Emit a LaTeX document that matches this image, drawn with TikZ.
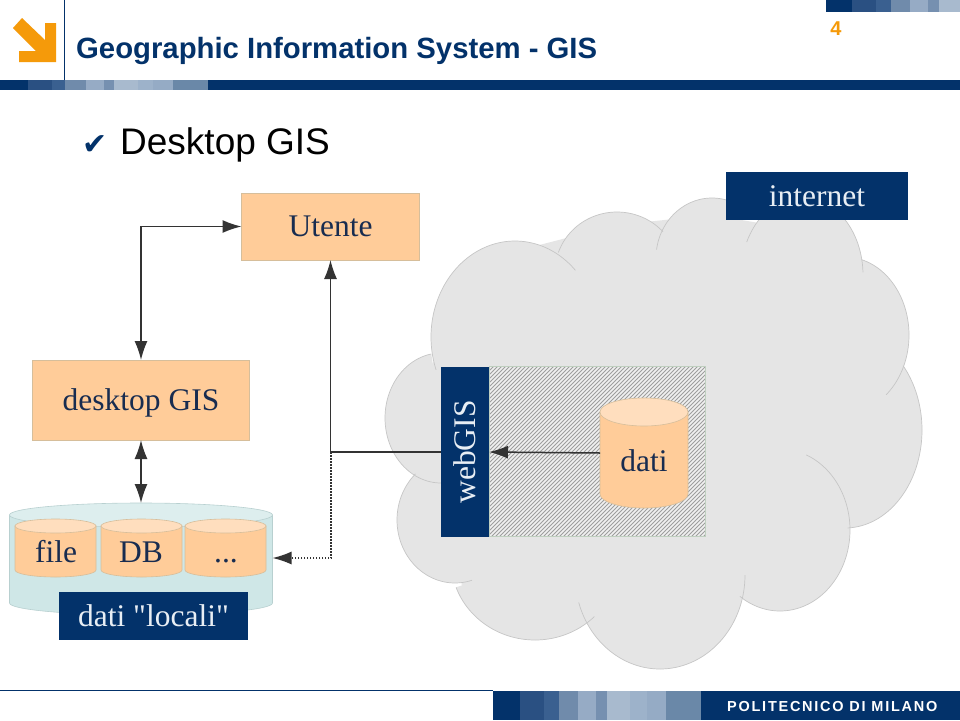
\documentclass[tikz,border=0pt]{standalone}
\usepackage{fontspec}
\setmainfont{Liberation Serif}
\newfontfamily\rawf{Liberation Serif}
\newfontfamily\sansf{Liberation Sans}
\newfontfamily\checkf{DejaVu Sans}
\newfontfamily\polif[LetterSpace=12]{Liberation Sans}
\usetikzlibrary{arrows.meta,patterns.meta,positioning}
\definecolor{navy}{RGB}{3,50,106}
\definecolor{seg1}{RGB}{42,80,130}
\definecolor{seg2}{RGB}{58,96,144}
\definecolor{seg3}{RGB}{112,139,171}
\definecolor{seg4}{RGB}{150,171,197}
\definecolor{seg5}{RGB}{118,144,176}
\definecolor{seg6}{RGB}{168,186,206}
\definecolor{seg7}{RGB}{157,178,202}
\definecolor{seg8}{RGB}{149,171,197}
\definecolor{seg9}{RGB}{106,136,168}
\definecolor{orangeP}{RGB}{245,154,10}
\definecolor{peach}{RGB}{255,204,153}
\definecolor{peachtop}{RGB}{255,222,190}
\definecolor{peachedge}{RGB}{214,190,155}
\definecolor{teal1}{RGB}{207,231,231}
\definecolor{teal2}{RGB}{221,238,238}
\definecolor{tealedge}{RGB}{184,208,208}
\definecolor{cloudc}{RGB}{229,229,229}
\definecolor{cloude}{RGB}{198,198,198}
\definecolor{hatchbg}{RGB}{240,240,240}
\definecolor{hatchln}{RGB}{158,158,158}
\definecolor{inkc}{RGB}{24,44,80}
\definecolor{pale}{RGB}{232,238,244}
\definecolor{linec}{RGB}{51,51,51}
\tikzset{
  >={Latex[length=19pt,width=13pt]},
  peachbox/.style={draw=peachedge,line width=.6pt,fill=peach,inner sep=0pt,outer sep=0pt,text=inkc,font=\fontsize{31.5}{32}\selectfont},
  navybox/.style={fill=navy,inner sep=0pt,outer sep=0pt,text=pale,font=\fontsize{31.5}{32}\selectfont},
  cyllabel/.style={inner sep=0pt,outer sep=0pt,anchor=base,text=inkc,font=\fontsize{31.5}{32}\selectfont},
  ghost/.style={inner sep=0pt,outer sep=0pt},
  conn/.style={draw=linec,line width=1.5pt},
}
% cx cy rx ry from to
\newcommand\lobefill[6]{\fill[cloudc] plot[domain=#5:#6,samples=50,smooth] ({#1+#3*cos(\x)},{#2+#4*sin(\x)}) -- (#1,#2) -- cycle;}
\newcommand\lobeline[6]{\draw[cloude,line width=.7pt] plot[domain=#5:#6,samples=50,smooth] ({#1+#3*cos(\x)},{#2+#4*sin(\x)});}
\newcommand\lobes[1]{%
  #1{515}{337}{84}{96}{160}{316}
  #1{617}{272}{62}{60}{199}{318}
  #1{712}{258}{56}{60}{188}{310}
  #1{802}{275}{61}{78}{205}{358}
  #1{845}{335}{64}{78}{-75}{50}
  #1{845}{430}{77}{98}{-41}{88}
  #1{780}{530}{70}{81}{-68}{125}
  #1{660}{575}{85}{94}{0}{163}
  #1{535}{560}{84}{80}{45}{160}
  #1{455}{520}{58}{63}{73}{227}
  #1{441}{418}{56}{65}{90}{260}
}
% cx rx ytop ybot ry body top edge
\newcommand\drawcyl[8]{%
  \path[fill=#6,draw=#8,line width=.6pt] ({#1-#2},#3) -- ({#1-#2},#4)
    arc[start angle=180,end angle=360,x radius=#2pt,y radius=#5pt] -- ({#1+#2},#3) -- cycle;
  \path[fill=#7,draw=#8,line width=.6pt] (#1,#3) ellipse[x radius=#2pt,y radius=#5pt];
}
\newcommand\strip[3]{%
  \foreach \a/\b/\c in {#1}{\fill[\c] (\a,#2) rectangle (\b,#3);}
}
\begin{document}
\begin{tikzpicture}[x=1pt,y=-1pt]
\useasboundingbox (0,0) rectangle (960,720);
\fill[white] (0,0) rectangle (960,720);
% header
\fill[navy] (0,80) rectangle (960,90);
\strip{28/52/seg1,52/65/seg2,65/86/seg3,86/104/seg4,104/114/seg5,114/138/seg6,138/153/seg7,153/173/seg8,173/208/seg9}{80}{90}
\fill[navy] (826,0) rectangle (960,12);
\strip{852/876/seg1,876/891/seg2,891/910/seg3,910/928/seg4,928/939/seg5,939/960/seg6}{0}{12}
\draw[navy,line width=1pt] (64.5,0) -- (64.5,80);
\fill[orangeP] (13,28) -- (22,18) -- (45,40) -- (45,23) -- (56,23) -- (56,62) -- (19,62) -- (19,51) -- (36,51) -- cycle;
\node[inner sep=0pt,anchor=base west,text=navy,font=\sansf\bfseries\fontsize{29.3}{30}\selectfont] (title) at (76,58) {Geographic Information System - GIS};
\node[inner sep=0pt,anchor=base,text=orangeP,font=\sansf\bfseries\fontsize{20}{20}\selectfont] (pagenum) at (836,35) {4};
\node[inner sep=0pt,anchor=base,text=navy,font=\checkf\fontsize{30}{30}\selectfont] (tick) at (95,154) {✔};
\node[inner sep=0pt,anchor=base west,text=black,font=\sansf\fontsize{37}{37}\selectfont] (head) at (120,154) {Desktop GIS};
% footer
\draw[navy,line width=1pt] (0,690.5) -- (493,690.5);
\fill[navy] (493,691) rectangle (960,720);
\strip{520/544/seg1,544/559/seg2,559/578/seg3,578/596/seg4,596/607/seg5,607/630/seg6,630/647/seg7,647/666/seg8,666/701/seg9}{691}{720}
\node[inner sep=0pt,anchor=base west,text=white,font=\polif\bfseries\fontsize{14.5}{15}\selectfont] (poli) at (727,711.5) {POLITECNICO DI MILANO};
% cloud
\lobes{\lobefill}
\fill[cloudc] (440,340)--(520,250)--(617,225)--(712,215)--(800,230)--(860,270)--(900,335)--(900,400)--(910,450)--(850,510)--(820,590)--(740,590)--(645,650)--(590,615)--(540,630)--(461,584)--(470,575)--(410,520)--(420,470)--(395,420)--(435,360)--cycle;
\lobes{\lobeline}
\node[navybox,minimum width=182pt,minimum height=48pt] (internet) at (817,196) {internet};
% web GIS panel
\fill[hatchbg] (489,366) rectangle (705,536);
\path[pattern={Lines[angle=45,distance=2.8284pt,line width=1pt]},pattern color=hatchln,draw=green!25!black!25,line width=.6pt] (489,366) rectangle (705,536);
\drawcyl{644}{44}{412}{494}{14}{peach}{peachtop}{peachedge}
\node[ghost,minimum width=88pt,minimum height=82pt] (dati) at (644,453) {};
\node[cyllabel] (datitext) at (644,471) {dati};
\node[navybox,minimum width=48pt,minimum height=170pt] (webgis) at (465,452) {};
\node[inner sep=0pt,anchor=center,rotate=90,text=pale,font=\fontsize{31.5}{32}\selectfont] (webgistext) at (465,452) {webGIS};
% local data
\drawcyl{141}{131.5}{515}{603}{12}{teal1}{teal2}{tealedge}
\node[ghost,minimum width=263pt,minimum height=110pt] (local) at (141,558) {};
\drawcyl{55.5}{40.5}{526}{570}{7}{peach}{peachtop}{peachedge}
\drawcyl{141.5}{40.5}{526}{570}{7}{peach}{peachtop}{peachedge}
\drawcyl{225.5}{40.5}{526}{570}{7}{peach}{peachtop}{peachedge}
\node[cyllabel] (file) at (56,562) {file};
\node[cyllabel] (db) at (141,562) {DB};
\node[cyllabel] (dots) at (226,562) {...};
\node[navybox,minimum width=189pt,minimum height=48pt,font=\rawf\fontsize{31.5}{32}\selectfont] (localbox) at (153.5,616) {dati "locali"};
% main boxes
\node[peachbox,minimum width=178pt,minimum height=67pt] (utente) at (330.5,226.5) {Utente};
\node[peachbox,minimum width=217pt,minimum height=80pt,text depth=0pt] (desktop) at (141,400) {desktop GIS};
% connectors
\coordinate (bend) at (331,452);
\draw[conn,<->] (desktop.north) |- (utente.west);
\draw[conn,<->] (desktop.south) -- (local.north);
\draw[conn,->] (webgis.west) -| (utente.south);
\draw[conn,->] (dati.west) -- (webgis.east);
\draw[conn,dash pattern=on 1.5pt off 1.5pt,->] (bend) |- (local.east);
\end{tikzpicture}
\end{document}
